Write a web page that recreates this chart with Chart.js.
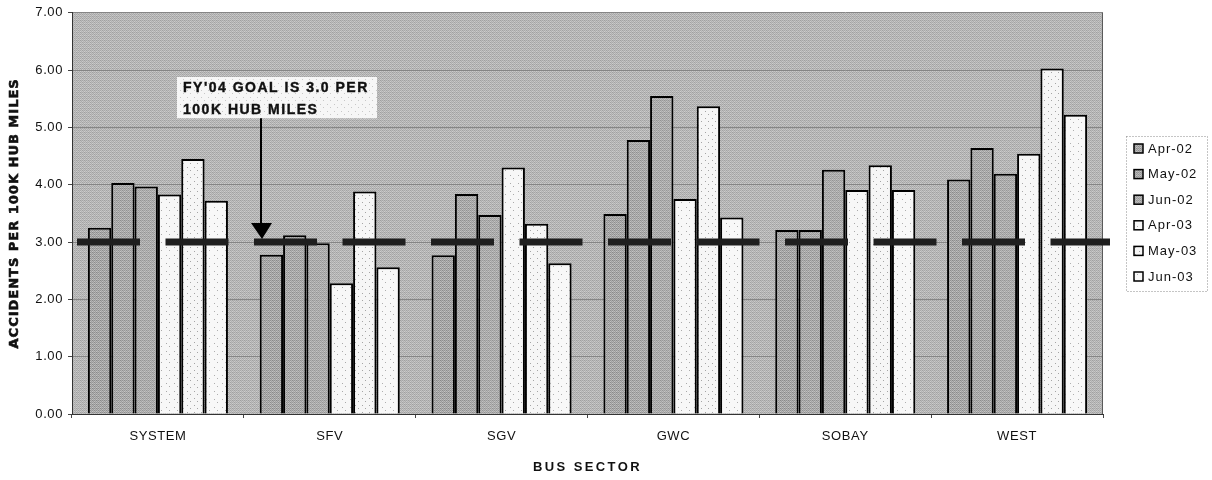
<!DOCTYPE html>
<html>
<head>
<meta charset="utf-8">
<title>Accidents per 100K Hub Miles by Bus Sector</title>
<script src="https://cdn.jsdelivr.net/npm/chart.js@4.4.1/dist/chart.umd.min.js"></script>
<style>
  html, body { margin: 0; padding: 0; background: #ffffff; }
  canvas { display: block; }
</style>
</head>
<body>
<canvas id="chart" width="1212" height="480"></canvas>
<script>
// Bus sectors along the x axis
const sectors = ['SYSTEM', 'SFV', 'SGV', 'GWC', 'SOBAY', 'WEST'];

// Monthly accident rates per 100K hub miles
const monthNames = ['Apr-02', 'May-02', 'Jun-02', 'Apr-03', 'May-03', 'Jun-03'];
const apr02 = [3.25, 2.78, 2.77, 3.49, 3.21, 4.09];
const may02 = [4.03, 3.12, 3.84, 4.78, 3.21, 4.64];
const jun02 = [3.97, 2.98, 3.47, 5.55, 4.26, 4.19];
const apr03 = [3.83, 2.28, 4.30, 3.75, 3.91, 4.54];
const may03 = [4.45, 3.88, 3.32, 5.37, 4.34, 6.03];
const jun03 = [3.72, 2.56, 2.63, 3.43, 3.91, 5.22];

// Value axis
const yMin = 0;
const yMax = 7;
const yStep = 1;

// FY'04 target
const goalValue = 3.0;
const goalNote = ["FY'04 GOAL IS 3.0 PER", '100K HUB MILES'];

const yTitle = 'ACCIDENTS PER 100K HUB MILES';
const xTitle = 'BUS SECTOR';

const seriesValues = [apr02, may02, jun02, apr03, may03, jun03];

const FONT = '"Liberation Sans", Arial, sans-serif';

// Ordered-dither tiles give the fills their printed, grainy look
const BAYER = [
  [0, 8, 2, 10],
  [12, 4, 14, 6],
  [3, 11, 1, 9],
  [15, 7, 13, 5]
];

function ditherTile(base, amp) {
  const c = document.createElement('canvas');
  c.width = 4; c.height = 4;
  const g = c.getContext('2d');
  for (let r = 0; r < 4; r++) {
    for (let k = 0; k < 4; k++) {
      const v = Math.round(base + (BAYER[r][k] / 15 - 0.5) * amp);
      g.fillStyle = `rgb(${v},${v},${v})`;
      g.fillRect(k, r, 1, 1);
    }
  }
  return c;
}

function speckTile(size, base, dot) {
  const c = document.createElement('canvas');
  c.width = size; c.height = size;
  const g = c.getContext('2d');
  g.fillStyle = `rgb(${base},${base},${base})`;
  g.fillRect(0, 0, size, size);
  g.fillStyle = `rgb(${dot},${dot},${dot})`;
  g.fillRect(1, 2, 1, 1);
  g.fillRect(Math.floor(size / 2) + 2, Math.floor(size / 2) + 3, 1, 1);
  return c;
}

const canvas = document.getElementById('chart');
const ctx0 = canvas.getContext('2d');
const pat = (tile) => ctx0.createPattern(tile, 'repeat');

const plotFill = pat(ditherTile(182, 46));
const noteFill = pat(speckTile(7, 246, 200));
const fills = [
  pat(ditherTile(166, 60)),
  pat(ditherTile(169, 56)),
  pat(ditherTile(172, 50)),
  pat(speckTile(8, 247, 170)),
  pat(speckTile(7, 246, 165)),
  pat(speckTile(8, 248, 175))
];

const datasets = seriesValues.map((vals, i) => ({
  label: monthNames[i],
  data: vals,
  backgroundColor: fills[i],
  borderColor: '#000000',
  borderWidth: 2,
  borderSkipped: 'start',
  categoryPercentage: 0.815,
  barPercentage: 1.0
}));

function setSpacing(ctx, px) {
  if ('letterSpacing' in ctx) ctx.letterSpacing = px + 'px';
}

// Grey plot-area background and right-hand frame, drawn under the grid and bars
const plotBackground = {
  id: 'plotBackground',
  beforeDraw(chart) {
    const { ctx, chartArea: a } = chart;
    ctx.save();
    ctx.fillStyle = plotFill;
    ctx.fillRect(a.left, a.top, a.right - a.left, a.bottom - a.top);
    ctx.restore();
    setSpacing(ctx, 0.6);
  },
  beforeDatasetsDraw(chart) {
    const { ctx, chartArea: a } = chart;
    ctx.save();
    ctx.strokeStyle = '#5a5a5a';
    ctx.lineWidth = 1;
    ctx.beginPath();
    ctx.moveTo(a.right - 0.5, a.top);
    ctx.lineTo(a.right - 0.5, a.bottom);
    ctx.stroke();
    ctx.restore();
  }
};

// Dashed goal line at the target rate, plus the callout with its arrow
const goalLine = {
  id: 'goalLine',
  afterDatasetsDraw(chart) {
    const { ctx, chartArea: a, scales: { x, y } } = chart;
    const gy = y.getPixelForValue(goalValue);
    ctx.save();
    setSpacing(ctx, 0);
    ctx.strokeStyle = '#1f1f1f';
    ctx.lineWidth = 7;
    ctx.lineCap = 'butt';
    ctx.setLineDash([63, 25.5]);
    ctx.beginPath();
    ctx.moveTo(a.left + 5, gy);
    ctx.lineTo(a.right + 7, gy);
    ctx.stroke();
    ctx.setLineDash([]);

    // Callout box
    const ax = x.getPixelForValue(0.6);
    const boxTop = y.getPixelForValue(5.88);
    const boxBottom = y.getPixelForValue(5.16);
    const boxLeft = ax - 84;
    const boxRight = ax + 116;
    ctx.fillStyle = noteFill;
    ctx.fillRect(boxLeft, boxTop, boxRight - boxLeft, boxBottom - boxTop);

    ctx.fillStyle = '#111111';
    ctx.strokeStyle = '#111111';
    ctx.lineWidth = 0.4;
    ctx.font = 'bold 14px ' + FONT;
    ctx.textAlign = 'left';
    ctx.textBaseline = 'middle';
    setSpacing(ctx, 1.5);
    ctx.fillText(goalNote[0], boxLeft + 6, boxTop + 11);
    ctx.strokeText(goalNote[0], boxLeft + 6, boxTop + 11);
    ctx.fillText(goalNote[1], boxLeft + 6, boxTop + 33);
    ctx.strokeText(goalNote[1], boxLeft + 6, boxTop + 33);
    setSpacing(ctx, 0);

    // Arrow pointing down at the goal line
    const tipY = gy - 3;
    const headTop = tipY - 16;
    ctx.strokeStyle = '#000000';
    ctx.lineWidth = 2;
    ctx.beginPath();
    ctx.moveTo(ax, boxBottom);
    ctx.lineTo(ax, headTop + 1);
    ctx.stroke();
    ctx.fillStyle = '#000000';
    ctx.beginPath();
    ctx.moveTo(ax - 10, headTop);
    ctx.lineTo(ax + 11, headTop);
    ctx.lineTo(ax + 1, tipY);
    ctx.closePath();
    ctx.fill();
    ctx.restore();
  }
};

// Axis titles with letter spacing, and the boxed legend on the right
const titlesAndLegend = {
  id: 'titlesAndLegend',
  afterDraw(chart) {
    const { ctx, chartArea: a } = chart;
    ctx.save();
    // y-axis title
    ctx.save();
    ctx.translate(15, (a.top + a.bottom) / 2);
    ctx.rotate(-Math.PI / 2);
    ctx.font = 'bold 13px "DejaVu Sans", sans-serif';
    ctx.fillStyle = '#111111';
    ctx.strokeStyle = '#111111';
    ctx.lineWidth = 0.6;
    ctx.textAlign = 'center';
    ctx.textBaseline = 'middle';
    setSpacing(ctx, 1);
    ctx.fillText(yTitle, 0, 0);
    ctx.strokeText(yTitle, 0, 0);
    ctx.restore();

    // x-axis title
    ctx.font = 'bold 13px ' + FONT;
    ctx.fillStyle = '#111111';
    ctx.textAlign = 'center';
    ctx.textBaseline = 'middle';
    setSpacing(ctx, 2.4);
    ctx.fillText(xTitle, (a.left + a.right) / 2, 467);

    // legend
    const lx = 1126, ly = 136, lw = 82, lh = 156;
    setSpacing(ctx, 0);
    ctx.fillStyle = '#ffffff';
    ctx.fillRect(lx, ly, lw, lh);
    ctx.strokeStyle = '#8a8a8a';
    ctx.lineWidth = 1;
    ctx.setLineDash([1, 2]);
    ctx.strokeRect(lx + 0.5, ly + 0.5, lw - 1, lh - 1);
    ctx.setLineDash([]);
    chart.data.datasets.forEach((ds, i) => {
      const cy = 149 + i * 25.6;
      ctx.fillStyle = ds.backgroundColor;
      ctx.fillRect(1134, cy - 5, 9, 9);
      ctx.strokeStyle = '#000000';
      ctx.lineWidth = 1.5;
      ctx.strokeRect(1134, cy - 5, 9, 9);
      ctx.fillStyle = '#111111';
      ctx.font = '13px ' + FONT;
      ctx.textAlign = 'left';
      ctx.textBaseline = 'middle';
      setSpacing(ctx, 1);
      ctx.fillText(ds.label, 1148, cy);
      setSpacing(ctx, 0);
    });
    ctx.restore();
  }
};

new Chart(canvas, {
  type: 'bar',
  data: { labels: sectors, datasets },
  options: {
    responsive: false,
    devicePixelRatio: 1,
    animation: false,
    layout: { padding: { left: 0, right: 109, top: 11, bottom: 0 } },
    plugins: {
      legend: { display: false },
      tooltip: { enabled: false },
      title: { display: false }
    },
    scales: {
      x: {
        offset: true,
        grid: {
          offset: true,
          drawOnChartArea: false,
          drawTicks: true,
          tickLength: 4,
          tickColor: '#444444'
        },
        border: { display: true, color: '#333333', width: 1 },
        ticks: {
          color: '#111111',
          font: { family: FONT, size: 13 },
          padding: 11,
          maxRotation: 0,
          autoSkip: false
        },
        afterFit(scale) { scale.height = 66; }
      },
      y: {
        min: yMin,
        max: yMax,
        ticks: {
          stepSize: yStep,
          color: '#111111',
          font: { family: FONT, size: 13 },
          padding: 5,
          callback: (v) => Number(v).toFixed(2)
        },
        grid: {
          color: '#858585',
          lineWidth: 1,
          drawTicks: true,
          tickLength: 4,
          tickColor: '#444444'
        },
        border: { display: true, color: '#333333', width: 1 },
        afterFit(scale) { scale.width = 72; }
      }
    }
  },
  plugins: [plotBackground, goalLine, titlesAndLegend]
});
</script>
</body>
</html>
